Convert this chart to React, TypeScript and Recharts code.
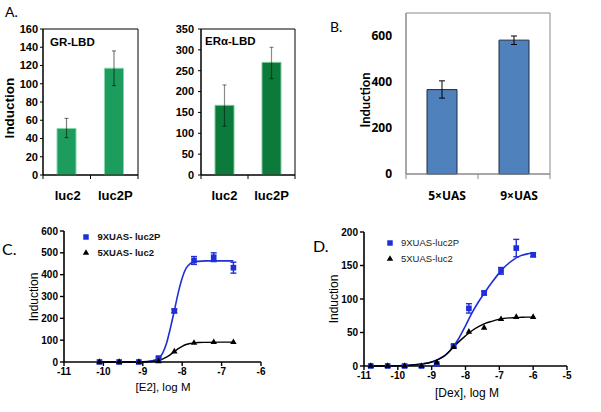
import React from 'react';
import {
  ComposedChart, Bar, XAxis, YAxis, ZAxis, ErrorBar, ReferenceArea, Scatter, Line, Symbols,
} from 'recharts';

// ---------- Panel A: GR-LBD ----------
const grCategories = ['luc2', 'luc2P'];
const grValues = [51, 117];
const grLow = [41, 98];
const grHigh = [62, 136];
const grTicks = [0, 20, 40, 60, 80, 100, 120, 140, 160];

// ---------- Panel A: ERα-LBD ----------
const erCategories = ['luc2', 'luc2P'];
const erValues = [167, 270];
const erLow = [117, 231];
const erHigh = [216, 306];
const erTicks = [0, 50, 100, 150, 200, 250, 300, 350];

// ---------- Panel B ----------
const uasCategories = ['5×UAS', '9×UAS'];
const uasValues = [367, 582];
const uasLow = [330, 563];
const uasHigh = [405, 600];
const uasTicks = [0, 200, 400, 600];

// ---------- Panel C (E2) ----------
const e2LogM = [-10.1, -9.6, -9.1, -8.6, -8.2, -7.7, -7.2, -6.7];
const e2Luc2P = [0, 0, 0, 18, 234, 465, 480, 432];
const e2Luc2PErr = [0, 0, 0, 4, 8, 18, 20, 25];
const e2Luc2 = [0, 0, 0, 3, 48, 87, 91, 91];
const e2FitX = [-10.1, -9.5, -9.0, -8.8, -8.7, -8.6, -8.5, -8.4, -8.3, -8.2, -8.1, -8.0, -7.9, -7.8, -7.7, -7.6, -7.4, -7.0, -6.7];
const e2FitLuc2P = [0, 0, 1, 4, 9, 17, 40, 85, 155, 235, 318, 385, 430, 450, 458, 461, 463, 463, 463];
const e2FitLuc2 = [0, 0, 0.5, 2, 4, 7, 13, 22, 34, 48, 61, 72, 80, 85, 87, 89, 90, 91, 91];
const e2XTicks = [-11, -10, -9, -8, -7, -6];
const e2YTicks = [0, 100, 200, 300, 400, 500, 600];

// ---------- Panel D (Dex) ----------
const dexLogM = [-10.8, -10.3, -9.8, -9.3, -8.85, -8.35, -7.9, -7.45, -6.95, -6.5, -6.0];
const dexLuc2P = [0, 0, 0, 0, 3, 30, 86, 109, 142, 176, 166];
const dexLuc2PErr = [0, 0, 0, 0, 0, 2, 7, 3, 5, 13, 3];
const dexLuc2 = [0, 0, 0, 0, 5, 28, 51, 57, 70, 73, 73];
const dexFitX = [-10.8, -10.3, -9.8, -9.3, -9.0, -8.8, -8.6, -8.4, -8.2, -8.0, -7.8, -7.6, -7.4, -7.2, -7.0, -6.8, -6.6, -6.4, -6.2, -6.0];
const dexFitLuc2P = [0, 0.2, 0.8, 3, 6, 10, 16, 26, 41, 60, 80, 97, 112, 126, 139, 150, 158, 164, 167, 169];
const dexFitLuc2 = [0, 0.2, 0.8, 3, 6, 10, 16, 26, 36, 45, 53, 59, 64, 67, 70, 71.5, 72, 72.5, 73, 73];
const dexXTicks = [-11, -10, -9, -8, -7, -6, -5];
const dexYTicks = [0, 50, 100, 150, 200];

const ARIAL = '"Liberation Sans", Arial, sans-serif';
const CAL = 'Lato, "Open Sans", sans-serif';
const OPEN = '"Open Sans", sans-serif';
const BLUE = '#1f2fd8';

const barRows = (cats: string[], vals: number[], lo: number[], hi: number[]) =>
  cats.map((c, i) => ({ pos: i + 0.5, name: c, value: vals[i], err: [vals[i] - lo[i], hi[i] - vals[i]] }));

const pointRows = (xs: number[], ys: number[], errs?: number[]) =>
  xs.map((x, i) => ({ x, y: ys[i], err: errs ? errs[i] : 0 }));

const catTick = (cats: string[], o: { len: number; color: string; dy: number; dx: number; family: string; size: number }) =>
  (props: any) => {
    const { x, y, payload } = props;
    const v = payload.value;
    if (Math.abs(v - Math.round(v)) < 1e-6) {
      return <line x1={x} x2={x} y1={y} y2={y + o.len} stroke={o.color} strokeWidth={1} />;
    }
    return (
      <text x={x + o.dx} y={y + o.dy} textAnchor="middle" fontFamily={o.family} fontWeight={700} fontSize={o.size} fill="#000">
        {cats[Math.floor(v)]}
      </text>
    );
  };

const T = ({ x, y, size, weight = 400, family = ARIAL, rotate = false, color = '#000', left = false, children }: any) => (
  <div
    style={{
      position: 'absolute', left: x, top: y,
      transform: `translate(${left ? '0' : '-50%'},-50%)${rotate ? ' rotate(-90deg)' : ''}`,
      fontSize: size, fontWeight: weight, fontFamily: family, color, lineHeight: 1, whiteSpace: 'nowrap',
    }}
  >
    {children}
  </div>
);

const LegendItem = ({ x, y, type, size, fill, label, textSize, weight, color }: any) => (
  <>
    <svg style={{ position: 'absolute', left: x - 6, top: y - 6 }} width={12} height={12}>
      <Symbols cx={6} cy={6} type={type} size={size} fill={fill} />
    </svg>
    <T x={x + 11.5} y={y} size={textSize} weight={weight} color={color} left>{label}</T>
  </>
);

const grRows = barRows(grCategories, grValues, grLow, grHigh);
const erRows = barRows(erCategories, erValues, erLow, erHigh);
const uasRows = barRows(uasCategories, uasValues, uasLow, uasHigh);

const aTickStyle = { fontFamily: ARIAL, fontWeight: 700, fontSize: 11, fill: '#000' };
const smallTick = { fontFamily: ARIAL, fontWeight: 700, fontSize: 10, fill: '#000' };

export default function App() {
  return (
    <div style={{ position: 'absolute', left: 0, top: 0, width: 601, height: 412, background: '#fff', overflow: 'hidden' }}>
      {/* Panel A left */}
      <div style={{ position: 'absolute', left: 0, top: 0 }}>
        <ComposedChart width={150} height={210} data={grRows} margin={{ top: 29, right: 12, bottom: 0, left: 0 }}>
          <XAxis dataKey="pos" type="number" domain={[0, 2]} ticks={[0, 0.5, 1, 1.5, 2]} interval={0}
            tickSize={0} tickMargin={0} tickLine={false} axisLine={{ stroke: '#000' }} height={35}
            tick={catTick(grCategories, { len: 4, color: '#000', dy: 25, dx: 1, family: ARIAL, size: 13 })} />
          <YAxis type="number" domain={[0, 160]} ticks={grTicks} interval={0} width={43} tickSize={3} tickMargin={2}
            axisLine={{ stroke: '#000' }} tickLine={{ stroke: '#000' }} tick={aTickStyle} />
          <ReferenceArea y1={0} y2={160} fill="none" stroke="#000" strokeWidth={1} />
          <Bar dataKey="value" barSize={19} fill="#1c9c5d" stroke="#86d6a8" strokeWidth={1} isAnimationActive={false}>
            <ErrorBar dataKey="err" direction="y" width={2} stroke="#000" strokeOpacity={0.5} strokeWidth={1.2} />
          </Bar>
        </ComposedChart>
      </div>

      {/* Panel A right */}
      <div style={{ position: 'absolute', left: 150, top: 0 }}>
        <ComposedChart width={150} height={210} data={erRows} margin={{ top: 29, right: 5, bottom: 0, left: 0 }}>
          <XAxis dataKey="pos" type="number" domain={[0, 2]} ticks={[0, 0.5, 1, 1.5, 2]} interval={0}
            tickSize={0} tickMargin={0} tickLine={false} axisLine={{ stroke: '#000' }} height={35}
            tick={catTick(erCategories, { len: 4, color: '#000', dy: 25, dx: 0, family: ARIAL, size: 13 })} />
          <YAxis type="number" domain={[0, 350]} ticks={erTicks} interval={0} width={51} tickSize={3} tickMargin={4}
            axisLine={{ stroke: '#000' }} tickLine={{ stroke: '#000' }} tick={aTickStyle} />
          <ReferenceArea y1={0} y2={350} fill="none" stroke="#000" strokeWidth={1} />
          <Bar dataKey="value" barSize={19} fill="#0b7a3b" stroke="#7cc99a" strokeWidth={1} isAnimationActive={false}>
            <ErrorBar dataKey="err" direction="y" width={2} stroke="#000" strokeOpacity={0.45} strokeWidth={1.2} />
          </Bar>
        </ComposedChart>
      </div>

      {/* Panel B */}
      <div style={{ position: 'absolute', left: 300, top: 0 }}>
        <ComposedChart width={301} height={210} data={uasRows} margin={{ top: 13, right: 51, bottom: 0, left: 0 }}>
          <XAxis dataKey="pos" type="number" domain={[0, 2]} ticks={[0, 0.5, 1, 1.5, 2]} interval={0}
            tickSize={0} tickMargin={0} tickLine={false} axisLine={{ stroke: '#8a8a8a' }} height={36}
            tick={catTick(uasCategories, { len: 5, color: '#8a8a8a', dy: 26, dx: 5, family: OPEN, size: 12 })} />
          <YAxis type="number" domain={[0, 700]} ticks={uasTicks} interval={0} width={106} tickLine={false} tickMargin={8}
            axisLine={{ stroke: '#8a8a8a' }} tick={{ fontFamily: OPEN, fontWeight: 700, fontSize: 12, fill: '#000' }} />
          <ReferenceArea y1={0} y2={700} fill="none" stroke="#8a8a8a" strokeWidth={1} />
          <Bar dataKey="value" barSize={30} fill="#4f81bd" stroke="#1d2c45" strokeWidth={1} isAnimationActive={false}>
            <ErrorBar dataKey="err" direction="y" width={3} stroke="#000" strokeWidth={1} />
          </Bar>
        </ComposedChart>
      </div>

      {/* Panel C */}
      <div style={{ position: 'absolute', left: 0, top: 210 }}>
        <ComposedChart width={300} height={202} margin={{ top: 21, right: 39, bottom: 0, left: 0 }}>
          <XAxis dataKey="x" type="number" domain={[-11, -6]} ticks={e2XTicks} interval={0} height={50}
            tickSize={4} tickMargin={2} axisLine={{ stroke: '#000', strokeWidth: 1.6 }} tickLine={{ stroke: '#000', strokeWidth: 1.4 }} tick={smallTick} />
          <YAxis dataKey="y" type="number" domain={[0, 600]} ticks={e2YTicks} interval={0} width={64}
            tickSize={4} tickMargin={2} axisLine={{ stroke: '#000', strokeWidth: 1.6 }} tickLine={{ stroke: '#000', strokeWidth: 1.4 }} tick={smallTick} />
          <ZAxis zAxisId="sq" range={[32, 32]} />
          <ZAxis zAxisId="tri" range={[18, 18]} />
          <Line data={pointRows(e2FitX, e2FitLuc2P)} dataKey="y" type="monotone" stroke={BLUE} strokeWidth={1.6} dot={false} isAnimationActive={false} />
          <Line data={pointRows(e2FitX, e2FitLuc2)} dataKey="y" type="monotone" stroke="#000" strokeWidth={1.4} dot={false} isAnimationActive={false} />
          <Scatter data={pointRows(e2LogM, e2Luc2P, e2Luc2PErr)} dataKey="y" zAxisId="sq" shape="square" fill={BLUE} isAnimationActive={false}>
            <ErrorBar dataKey="err" direction="y" width={3} stroke={BLUE} strokeWidth={1.4} />
          </Scatter>
          <Scatter data={pointRows(e2LogM, e2Luc2)} dataKey="y" zAxisId="tri" shape="triangle" fill="#000" isAnimationActive={false} />
        </ComposedChart>
      </div>

      {/* Panel D */}
      <div style={{ position: 'absolute', left: 300, top: 210 }}>
        <ComposedChart width={301} height={202} margin={{ top: 22, right: 34, bottom: 0, left: 0 }}>
          <XAxis dataKey="x" type="number" domain={[-11, -5]} ticks={dexXTicks} interval={0} height={46}
            tickSize={4} tickMargin={2} axisLine={{ stroke: '#000', strokeWidth: 1.6 }} tickLine={{ stroke: '#000', strokeWidth: 1.4 }} tick={smallTick} />
          <YAxis dataKey="y" type="number" domain={[0, 200]} ticks={dexYTicks} interval={0} width={64}
            tickSize={4} tickMargin={2} axisLine={{ stroke: '#000', strokeWidth: 1.6 }} tickLine={{ stroke: '#000', strokeWidth: 1.4 }} tick={smallTick} />
          <ZAxis zAxisId="sq" range={[32, 32]} />
          <ZAxis zAxisId="tri" range={[18, 18]} />
          <Line data={pointRows(dexFitX, dexFitLuc2P)} dataKey="y" type="monotone" stroke={BLUE} strokeWidth={1.6} dot={false} isAnimationActive={false} />
          <Line data={pointRows(dexFitX, dexFitLuc2)} dataKey="y" type="monotone" stroke="#000" strokeWidth={1.4} dot={false} isAnimationActive={false} />
          <Scatter data={pointRows(dexLogM, dexLuc2P, dexLuc2PErr)} dataKey="y" zAxisId="sq" shape="square" fill={BLUE} isAnimationActive={false}>
            <ErrorBar dataKey="err" direction="y" width={3} stroke={BLUE} strokeWidth={1.4} />
          </Scatter>
          <Scatter data={pointRows(dexLogM, dexLuc2)} dataKey="y" zAxisId="tri" shape="triangle" fill="#000" isAnimationActive={false} />
        </ComposedChart>
      </div>

      {/* Text labels */}
      <T x={5} y={12} size={14} family={CAL} left>A.</T>
      <T x={10} y={108} size={13.5} weight={700} rotate>Induction</T>
      <T x={50} y={43} size={11.5} weight={700} left>GR-LBD</T>
      <T x={205} y={42} size={11.5} weight={700} left>ERα-LBD</T>

      <T x={330} y={27} size={14} family={CAL} left>B.</T>
      <T x={365} y={100} size={13} family={CAL} weight={700} rotate>Induction</T>

      <T x={2} y={249} size={16} family={CAL} left>C.</T>
      <T x={34} y={297} size={12} rotate>Induction</T>
      <T x={163} y={388} size={11.5}>[E2], log M</T>
      <LegendItem x={86} y={237} type="square" size={30} fill={BLUE} label="9XUAS- luc2P" textSize={9.5} weight={700} color="#111" />
      <LegendItem x={86} y={252.5} type="triangle" size={18} fill="#000" label="5XUAS- luc2" textSize={9.5} weight={700} color="#111" />

      <T x={313} y={246} size={16} family={CAL} left>D.</T>
      <T x={333.5} y={299} size={12} rotate>Induction</T>
      <T x={467} y={393} size={12}>[Dex], log M</T>
      <LegendItem x={389.5} y={242.5} type="square" size={30} fill={BLUE} label="9XUAS-luc2P" textSize={9.5} weight={400} color="#222" />
      <LegendItem x={389.5} y={259} type="triangle" size={18} fill="#000" label="5XUAS-luc2" textSize={9.5} weight={400} color="#222" />
    </div>
  );
}
